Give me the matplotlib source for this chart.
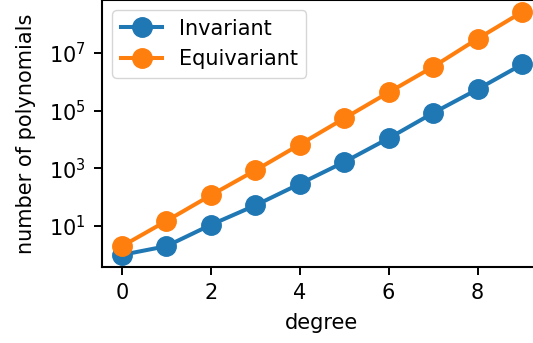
import matplotlib.pyplot as plt
from matplotlib.ticker import NullLocator

degree = list(range(10))
invariant = [1, 2, 11, 52, 290, 1650, 11000, 83000, 550000, 4.0e6]
equivariant = [2, 15, 117, 850, 6700, 54000, 430000, 3.3e6, 3.1e7, 2.6e8]

plt.rcParams['font.size'] = 15

fig = plt.figure(figsize=(5.33, 3.43), dpi=100)
ax = fig.add_axes([102 / 533, 76 / 343, 440 / 533, 267 / 343])

ax.plot(degree, invariant, marker='o', lw=2.9, ms=14, label='Invariant')
ax.plot(degree, equivariant, marker='o', lw=2.9, ms=14, label='Equivariant')
ax.set_yscale('log')
ax.set_yticks([1e1, 1e3, 1e5, 1e7])
ax.yaxis.set_minor_locator(NullLocator())
ax.set_xticks([0, 2, 4, 6, 8])

ax.set_xlabel('degree', labelpad=7)
ax.set_ylabel('number of polynomials', labelpad=9)
ax.legend(loc='upper left', fontsize=15)

for s in ax.spines.values():
    s.set_linewidth(1.5)
ax.tick_params(width=1.4, length=5.8, pad=6)

fig.savefig('out.png', dpi=100)
